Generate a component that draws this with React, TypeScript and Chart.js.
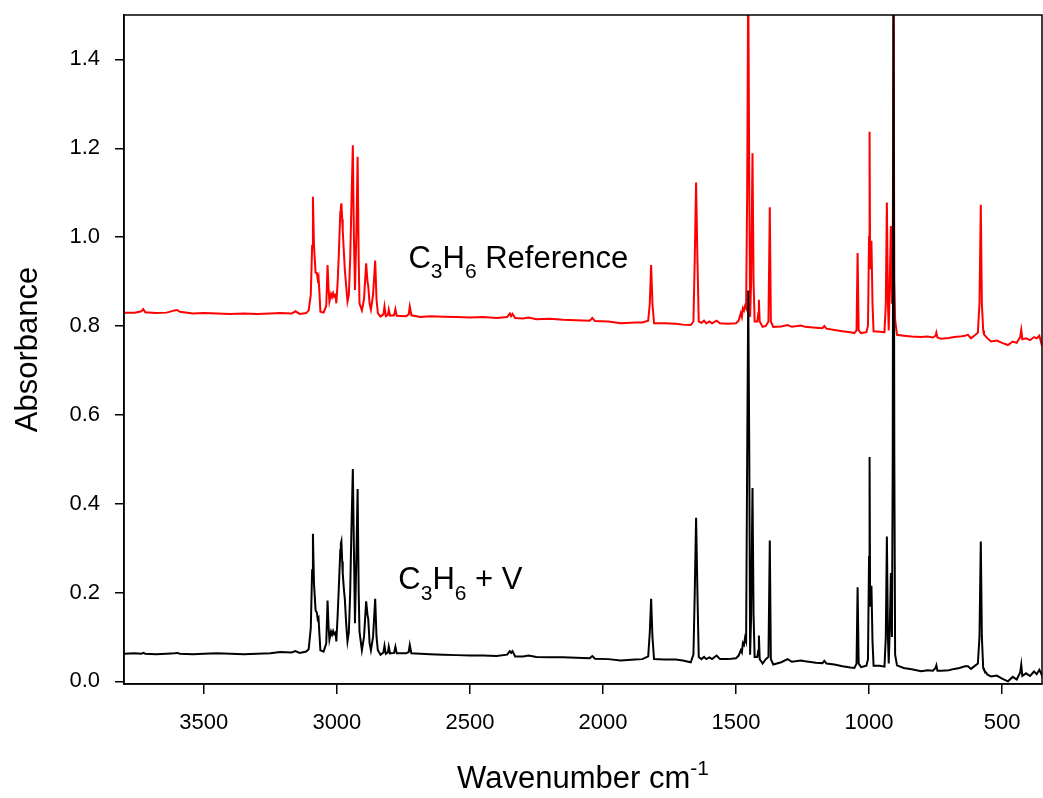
import { useEffect, useRef } from "react";
import { Chart, registerables } from "chart.js";

Chart.register(...registerables);

// ---- data ----
const wavenumbers = [
  3800, 3760, 3735, 3728, 3720, 3680, 3640, 3610, 3600, 3590, 3540, 3500, 3450, 3400, 3350, 3300, 3250, 3213,
  3170, 3156, 3140, 3115, 3106, 3098, 3093, 3090, 3086, 3080, 3075, 3072, 3069, 3065, 3062, 3050, 3040, 3035,
  3031, 3028, 3022, 3018, 3014, 3010, 3005, 3002, 2997, 2993, 2987, 2985, 2983, 2980, 2978, 2974, 2970, 2965,
  2960, 2955, 2950, 2945, 2940, 2936, 2932, 2927, 2922, 2918, 2915, 2906, 2898, 2890, 2885, 2882, 2877, 2872,
  2864, 2856, 2851, 2846, 2836, 2825, 2821, 2816, 2808, 2805, 2800, 2785, 2780, 2775, 2740, 2730, 2726, 2720,
  2686, 2650, 2600, 2550, 2500, 2450, 2400, 2360, 2350, 2345, 2340, 2330, 2300, 2280, 2250, 2200, 2150, 2100,
  2050, 2040, 2030, 1980, 1933, 1880, 1852, 1830, 1824, 1819, 1814, 1808, 1770, 1726, 1700, 1670, 1660, 1655,
  1650, 1645, 1640, 1630, 1620, 1612, 1600, 1590, 1573, 1560, 1530, 1500, 1490, 1482, 1478, 1474, 1470, 1466,
  1462, 1458, 1454, 1450, 1447, 1443, 1438, 1434, 1430, 1420, 1416, 1414, 1411, 1400, 1388, 1378, 1373, 1369,
  1360, 1330, 1306, 1290, 1256, 1240, 1200, 1175, 1168, 1160, 1130, 1100, 1070, 1055, 1047, 1043, 1039, 1030,
  1010, 1004, 1000, 998, 996, 993, 991, 987, 983, 960, 942, 937, 933, 929, 926, 922, 918, 914, 911, 908, 905,
  902, 895, 870, 840, 804, 780, 760, 750, 747, 743, 729, 700, 680, 660, 640, 628, 617, 600, 591, 585, 580, 576,
  571, 568, 555, 541, 520, 500, 478, 460, 445, 432, 428, 424, 410, 395, 380, 370, 360, 352, 350,
];

const referenceAbsorbance = [
  0.83, 0.83, 0.833, 0.838, 0.831, 0.829, 0.83, 0.835, 0.836, 0.832, 0.828, 0.829, 0.828, 0.827, 0.828, 0.827, 0.828, 0.829,
  0.828, 0.833, 0.827, 0.829, 0.835, 0.87, 0.98, 1.091, 0.98, 0.92, 0.919, 0.905, 0.911, 0.87, 0.832, 0.83, 0.845, 0.937,
  0.88, 0.855, 0.872, 0.865, 0.874, 0.866, 0.87, 0.851, 0.9, 0.956, 1.057, 1.068, 1.076, 1.04, 1.016, 0.97, 0.926, 0.89,
  0.855, 0.87, 0.95, 1.08, 1.207, 1.0, 0.881, 1.0, 1.181, 0.95, 0.851, 0.835, 0.86, 0.941, 0.9, 0.889, 0.85, 0.837,
  0.87, 0.947, 0.86, 0.829, 0.821, 0.826, 0.844, 0.822, 0.825, 0.837, 0.823, 0.824, 0.838, 0.823, 0.822, 0.826, 0.844, 0.824,
  0.82, 0.822, 0.821, 0.82, 0.819, 0.82, 0.818, 0.82, 0.828, 0.822, 0.827, 0.818, 0.817, 0.819, 0.815, 0.816, 0.814, 0.813,
  0.812, 0.818, 0.811, 0.81, 0.806, 0.808, 0.808, 0.812, 0.85, 0.937, 0.85, 0.806, 0.806, 0.805, 0.803, 0.802, 0.81, 0.95,
  1.123, 0.95, 0.81, 0.807, 0.812, 0.806, 0.81, 0.806, 0.812, 0.806, 0.805, 0.806, 0.812, 0.829, 0.82, 0.84, 0.835, 0.845,
  0.84, 1.1, 1.6, 1.1, 0.82, 0.9, 1.189, 0.9, 0.81, 0.81, 0.83, 0.859, 0.81, 0.798, 0.8, 0.81, 1.067, 0.81,
  0.798, 0.799, 0.802, 0.798, 0.801, 0.798, 0.796, 0.795, 0.8, 0.794, 0.791, 0.788, 0.786, 0.784, 0.79, 0.964, 0.79, 0.784,
  0.786, 0.8, 1.0, 1.237, 0.93, 0.97, 0.992, 0.85, 0.788, 0.787, 0.786, 0.85, 1.078, 0.85, 0.79, 0.9, 1.025, 0.85, 0.9, 1.6, 0.9,
  0.814, 0.78, 0.778, 0.776, 0.775, 0.776, 0.774, 0.778, 0.785, 0.774, 0.771, 0.773, 0.775, 0.776, 0.778, 0.78, 0.772, 0.78, 0.785, 0.85, 1.073, 0.85,
  0.79, 0.781, 0.772, 0.765, 0.767, 0.762, 0.757, 0.765, 0.762, 0.775, 0.791, 0.77, 0.772, 0.768, 0.775, 0.772, 0.778, 0.76, 0.765,
];

const vanadiumAbsorbance = [
  0.062, 0.063, 0.062, 0.064, 0.062, 0.061, 0.062, 0.063, 0.064, 0.062, 0.061, 0.062, 0.063, 0.062, 0.061, 0.062, 0.063, 0.066,
  0.065, 0.068, 0.064, 0.067, 0.072, 0.12, 0.25, 0.332, 0.22, 0.16, 0.154, 0.14, 0.143, 0.1, 0.07, 0.067, 0.085, 0.182,
  0.12, 0.094, 0.112, 0.105, 0.113, 0.106, 0.11, 0.09, 0.15, 0.206, 0.296, 0.31, 0.315, 0.27, 0.244, 0.21, 0.184, 0.13,
  0.09, 0.11, 0.2, 0.35, 0.478, 0.3, 0.131, 0.27, 0.433, 0.2, 0.112, 0.07, 0.1, 0.18, 0.15, 0.14, 0.086, 0.07,
  0.1, 0.186, 0.1, 0.07, 0.06, 0.065, 0.08, 0.062, 0.065, 0.078, 0.063, 0.064, 0.078, 0.063, 0.063, 0.066, 0.082, 0.063,
  0.062, 0.061, 0.06, 0.059, 0.058, 0.058, 0.057, 0.06, 0.068, 0.064, 0.068, 0.056, 0.056, 0.058, 0.055, 0.054, 0.054, 0.053,
  0.052, 0.057, 0.051, 0.05, 0.047, 0.049, 0.05, 0.056, 0.11, 0.186, 0.1, 0.05, 0.049, 0.049, 0.047, 0.043, 0.06, 0.2,
  0.368, 0.2, 0.055, 0.05, 0.055, 0.05, 0.054, 0.05, 0.058, 0.05, 0.05, 0.052, 0.058, 0.07, 0.065, 0.086, 0.082, 0.098,
  0.09, 0.5, 0.88, 0.5, 0.06, 0.15, 0.435, 0.15, 0.055, 0.055, 0.07, 0.103, 0.05, 0.04, 0.05, 0.055, 0.317, 0.05,
  0.038, 0.043, 0.05, 0.044, 0.047, 0.045, 0.042, 0.041, 0.046, 0.04, 0.038, 0.034, 0.031, 0.03, 0.04, 0.212, 0.04, 0.032,
  0.035, 0.05, 0.28, 0.505, 0.17, 0.2, 0.215, 0.09, 0.035, 0.035, 0.033, 0.1, 0.326, 0.1, 0.04, 0.12, 0.244, 0.1, 0.5, 1.6, 0.5,
  0.06, 0.036, 0.03, 0.027, 0.0225, 0.025, 0.024, 0.03, 0.036, 0.024, 0.024, 0.025, 0.028, 0.03, 0.034, 0.034, 0.028, 0.036, 0.04, 0.1, 0.315, 0.1,
  0.03, 0.026, 0.015, 0.011, 0.013, 0.006, 0.0, 0.01, 0.004, 0.02, 0.0375, 0.012, 0.018, 0.012, 0.022, 0.016, 0.026, 0.016, 0.02,
];

const xTickValues = [3500, 3000, 2500, 2000, 1500, 1000, 500];
const yTickValues = [0, 0.2, 0.4, 0.6, 0.8, 1.0, 1.2, 1.4];

const FONT = '"Liberation Sans", Arial, Helvetica, sans-serif';

type Part = { t: string; sub?: boolean; sup?: boolean };

function drawRich(ctx: CanvasRenderingContext2D, parts: Part[], x: number, y: number, size: number, measureOnly = false) {
  let cx = x;
  for (const p of parts) {
    const s = p.sub || p.sup ? Math.round(size * 0.68) : size;
    ctx.font = `${s}px ${FONT}`;
    const dy = p.sub ? size * 0.33 : p.sup ? -size * 0.42 : 0;
    if (!measureOnly) ctx.fillText(p.t, cx, y + dy);
    cx += ctx.measureText(p.t).width;
  }
  return cx - x;
}

const textPlugin = {
  id: "spectrumTexts",
  afterDraw(chart: any) {
    const { ctx, chartArea, scales } = chart;
    const xs = scales.x;
    const ys = scales.y;
    ctx.save();
    ctx.strokeStyle = "#000";
    ctx.lineWidth = 1.5;
    ctx.strokeRect(chartArea.left, chartArea.top, chartArea.right - chartArea.left, chartArea.bottom - chartArea.top);

    ctx.fillStyle = "#000";
    ctx.textBaseline = "alphabetic";
    ctx.textAlign = "left";
    drawRich(
      ctx,
      [{ t: "C" }, { t: "3", sub: true }, { t: "H" }, { t: "6", sub: true }, { t: " Reference" }],
      xs.getPixelForValue(2731),
      ys.getPixelForValue(0.93),
      31
    );
    drawRich(
      ctx,
      [{ t: "C" }, { t: "3", sub: true }, { t: "H" }, { t: "6", sub: true }, { t: " + V" }],
      xs.getPixelForValue(2769),
      ys.getPixelForValue(0.207),
      31
    );

    // axis titles
    const titleParts: Part[] = [{ t: "Wavenumber cm" }, { t: "-1", sup: true }];
    const w = drawRich(ctx, titleParts, 0, 0, 31, true);
    const cxm = (chartArea.left + chartArea.right) / 2;
    drawRich(ctx, titleParts, cxm - w / 2, 788, 31);

    ctx.save();
    ctx.translate(28, (chartArea.top + chartArea.bottom) / 2);
    ctx.rotate(-Math.PI / 2);
    ctx.font = `31px ${FONT}`;
    ctx.textAlign = "center";
    ctx.textBaseline = "middle";
    ctx.fillText("Absorbance", 0, 0);
    ctx.restore();
    ctx.restore();
  },
};

export default function App() {
  const ref = useRef<HTMLCanvasElement | null>(null);
  useEffect(() => {
    if (!ref.current) return;
    const chart = new Chart(ref.current, {
      type: "line",
      data: {
        datasets: [
          {
            label: "C3H6 + V",
            data: wavenumbers.map((w, i) => ({ x: w, y: vanadiumAbsorbance[i] })),
            borderColor: "#000000",
            borderWidth: 2,
            pointRadius: 0,
            tension: 0,
          },
          {
            label: "C3H6 Reference",
            data: wavenumbers.map((w, i) => ({ x: w, y: referenceAbsorbance[i] })),
            borderColor: "#ff0000",
            borderWidth: 2,
            pointRadius: 0,
            tension: 0,
          },
        ],
      },
      options: {
        animation: false,
        responsive: false,
        maintainAspectRatio: false,
        events: [],
        layout: { padding: { top: 15, right: 1, left: 0, bottom: 0 } },
        plugins: { legend: { display: false }, tooltip: { enabled: false }, title: { display: false } },
        scales: {
          x: {
            type: "linear",
            reverse: true,
            min: 350,
            max: 3800,
            afterBuildTicks: (s: any) => {
              s.ticks = xTickValues.map((v) => ({ value: v }));
            },
            afterFit: (s: any) => {
              s.height = 114;
              s.paddingLeft = 0;
              s.paddingRight = 0;
            },
            grid: { display: true, drawOnChartArea: false, drawTicks: true, tickLength: 10, color: "#000", lineWidth: 1.5 },
            border: { display: true, color: "#000", width: 1.5 },
            ticks: {
              color: "#000",
              font: { family: FONT, size: 22 },
              padding: 16,
              maxRotation: 0,
              autoSkip: false,
              callback: (v: any) => String(v),
            },
          },
          y: {
            type: "linear",
            min: -0.006,
            max: 1.5,
            afterBuildTicks: (s: any) => {
              s.ticks = yTickValues.map((v) => ({ value: v }));
            },
            afterFit: (s: any) => {
              s.width = 124;
              s.paddingTop = 0;
              s.paddingBottom = 0;
            },
            grid: { display: true, drawOnChartArea: false, drawTicks: true, tickLength: 9, color: "#000", lineWidth: 1.5 },
            border: { display: true, color: "#000", width: 1.5 },
            ticks: {
              color: "#000",
              font: { family: FONT, size: 22 },
              padding: 15,
              autoSkip: false,
              callback: (v: any) => Number(v).toFixed(1),
            },
          },
        },
      },
      plugins: [textPlugin],
    });
    return () => chart.destroy();
  }, []);

  return (
    <div style={{ position: "fixed", left: 0, top: 0, width: 1043, height: 798, background: "#fff" }}>
      <canvas ref={ref} width={1043} height={798} style={{ width: 1043, height: 798, display: "block" }} />
    </div>
  );
}
